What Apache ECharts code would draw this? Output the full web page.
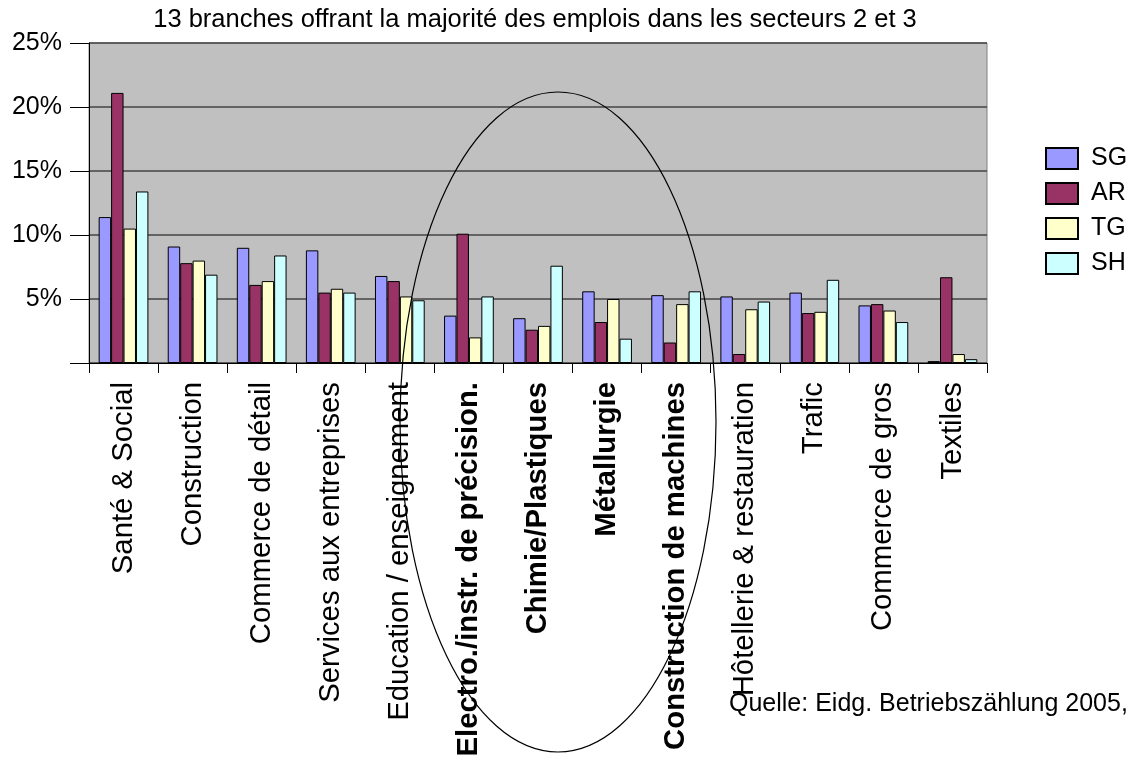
<!DOCTYPE html>
<html><head><meta charset="utf-8">
<script src="https://cdn.jsdelivr.net/npm/echarts@6/dist/echarts.min.js"></script>
<style>html,body{margin:0;padding:0;background:#fff}#c{width:1135px;height:760px}</style>
</head><body><div id="c"></div>
<script>
const categories = ["Santé & Social","Construction","Commerce de détail","Services aux entreprises","Education / enseignement","Electro./instr. de précision.","Chimie/Plastiques","Métallurgie","Construction de machines","Hôtellerie & restauration","Trafic","Commerce de gros","Textiles"];
const boldCats = ["Electro./instr. de précision.","Chimie/Plastiques","Métallurgie","Construction de machines"];
const SG = [11.4, 9.1, 9.0, 8.8, 6.8, 3.7, 3.5, 5.6, 5.3, 5.2, 5.5, 4.5, 0.15];
const AR = [21.1, 7.8, 6.1, 5.5, 6.4, 10.1, 2.6, 3.2, 1.6, 0.7, 3.9, 4.6, 6.7];
const TG = [10.5, 8.0, 6.4, 5.8, 5.2, 2.0, 2.9, 5.0, 4.6, 4.2, 4.0, 4.1, 0.7];
const SH = [13.4, 6.9, 8.4, 5.5, 4.9, 5.2, 7.6, 1.9, 5.6, 4.8, 6.5, 3.2, 0.3];
const seriesNames = ["SG","AR","TG","SH"];
const colors = ["#9999ff","#993366","#ffffcc","#ccffff"];
const yTicks = [0,5,10,15,20,25];

const font = "Liberation Sans, Arial, sans-serif";
const chart = echarts.init(document.getElementById('c'));
const data = [SG, AR, TG, SH];
chart.setOption({
  animation: false,
  textStyle: {fontFamily: font},
  title: {text: "13 branches offrant la majorité des emplois dans les secteurs 2 et 3", left: 535, textAlign: 'center', top: 7, padding: 0,
    textStyle: {fontFamily: font, fontSize: 25.5, fontWeight: 'normal', color: '#000'}},
  legend: {orient: 'vertical', left: 1045, top: 146, padding: 0, itemWidth: 32, itemHeight: 21, itemGap: 10,
    textStyle: {fontFamily: font, fontSize: 25, color: '#000', padding: [0,0,0,8]},
    data: seriesNames.map(n => ({name: n, icon: 'rect'}))},
  grid: {left: 89, right: 148, top: 43, bottom: 397, backgroundColor: '#c0c0c0', show: true, borderColor: '#808080', borderWidth: 1},
  xAxis: {type: 'category', data: categories,
    axisLine: {lineStyle: {color: '#000'}},
    axisTick: {show: true, length: 10, lineStyle: {color: '#000'}},
    axisLabel: {rotate: 90, interval: 0, margin: 19, fontSize: 29.3, color: '#000', fontFamily: font,
      formatter: v => boldCats.includes(v) ? '{b|' + v + '}' : v,
      rich: {b: {fontWeight: 'bold', fontSize: 29.3, fontFamily: font, color: '#000'}}}},
  yAxis: {type: 'value', min: yTicks[0], max: yTicks[yTicks.length-1], interval: 5,
    axisLine: {show: true, lineStyle: {color: '#000'}},
    axisTick: {show: true, length: 19, lineStyle: {color: '#000'}},
    splitLine: {lineStyle: {color: '#444', width: 1.5}},
    axisLabel: {fontSize: 25, color: '#000', fontFamily: font, margin: 27, formatter: v => v === 0 ? '' : v + '%'}},
  series: seriesNames.map((n, i) => ({
    name: n, type: 'bar', data: data[i], barGap: '0%', barCategoryGap: '28%',
    itemStyle: {color: colors[i], borderColor: '#000', borderWidth: 1}
  })),
  graphic: [
    {type: 'ellipse', shape: {cx: 558, cy: 422, rx: 158, ry: 330}, style: {fill: 'none', stroke: '#000', lineWidth: 1.2}, z: 100},
    {type: 'text', left: 729, top: 692, style: {text: 'Quelle: Eidg. Betriebszählung 2005,', font: '25px ' + font, fill: '#000'}}
  ]
});
</script></body></html>
